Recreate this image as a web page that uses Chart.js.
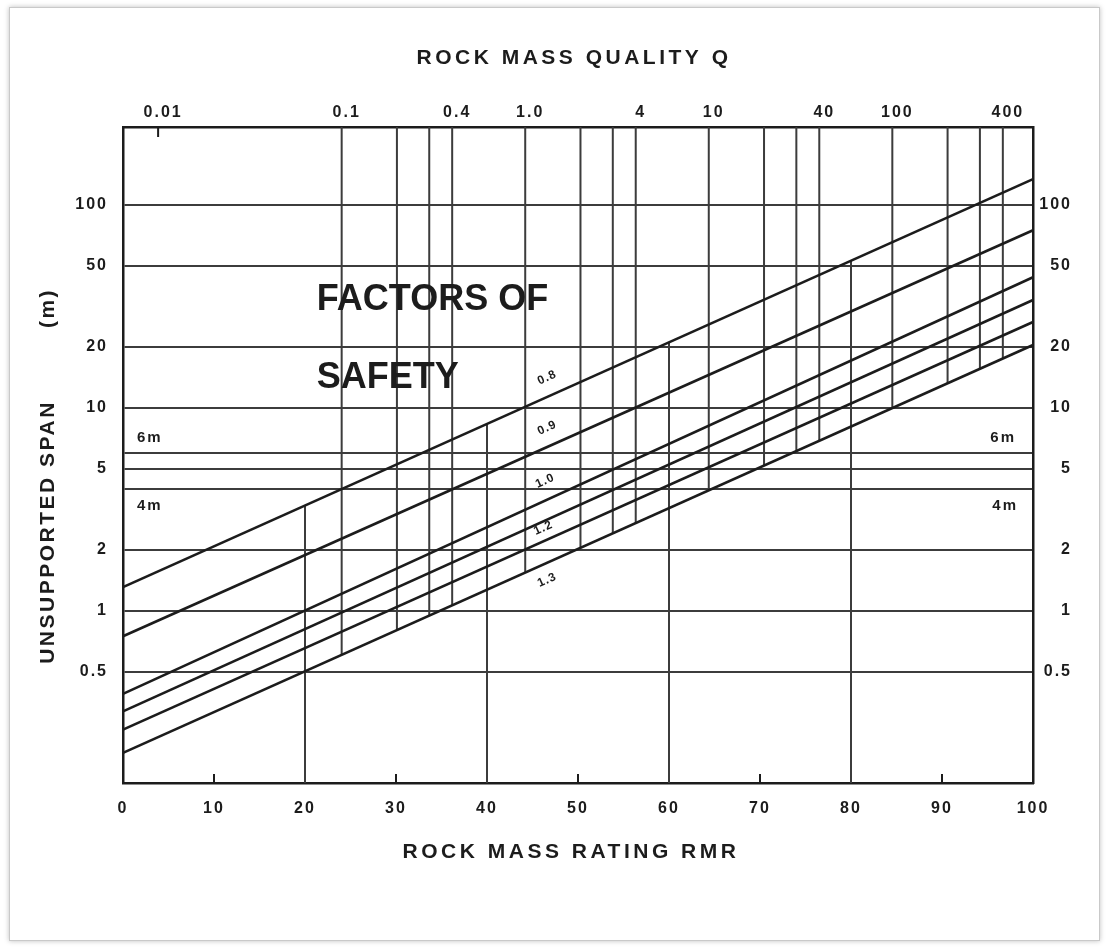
<!DOCTYPE html>
<html>
<head>
<meta charset="utf-8">
<title>Unsupported span vs rock mass rating</title>
<script src="https://cdn.jsdelivr.net/npm/chart.js@4"></script>
<style>
  html, body { margin: 0; padding: 0; background: #fff; }
  #frame { position: absolute; left: 9px; top: 7px; width: 1089px; height: 932px;
           border: 1px solid #c9c9c9; box-shadow: 0 0 5px rgba(0,0,0,0.25); }
  #chart { position: absolute; left: 0; top: 0; }
</style>
</head>
<body>
<div id="frame"></div>
<canvas id="chart" width="1109" height="947"></canvas>
<script>
// RMR at the two ends of every factor-of-safety line
const rmrEnds = [0, 100];
// unsupported span (m) at RMR 0 and at RMR 100
const span08 = [1.31, 134];
const span09 = [0.75, 75];
const span10 = [0.39, 44];
const span11 = [0.32, 34];
const span12 = [0.26, 26.5];
const span13 = [0.20, 20.4];
const fsNames = ['0.8', '0.9', '1.0', '1.1', '1.2', '1.3'];

// span axis
const spanMin = 0.142;
const spanMax = 242;
const spanLabels = [0.5, 1, 2, 5, 10, 20, 50, 100];
const spanGrid = [0.5, 1, 2, 4, 5, 6, 10, 20, 50, 100];

// Q axis (top) and RMR axis (bottom)
const qGrid = [0.1, 0.2, 0.3, 0.4, 1, 2, 3, 4, 10, 20, 30, 40, 100, 200, 300, 400];
const qLabelValues = [0.01, 0.1, 0.4, 1, 4, 10, 40, 100, 400];
const qLabels = ['0.01', '0.1', '0.4', '1.0', '4', '10', '40', '100', '400'];
const rmrGrid = [20, 40, 60, 80];
const rmrMinor = [10, 30, 50, 70, 90];

// factor of safety notes written on the lines
const fsText = ['0.8', '0.9', '1.0', '1.2', '1.3'];
const fsTextRmr = [46.6, 46.6, 46.4, 46.2, 46.6];
const fsTextSpan = [14.1, 7.97, 4.37, 2.56, 1.42];

// Q scale as drawn against RMR
const qToRmr = q => 8.76 * Math.log(q) + 44.2;

const ink = '#1c1c1c';
const gridColor = '#3c3c3c';
const fontFamily = "'Liberation Sans', Arial, Helvetica, sans-serif";

function spanAt(line, rmr) {
    const t = (rmr - rmrEnds[0]) / (rmrEnds[1] - rmrEnds[0]);
    return Math.exp(Math.log(line[0]) + t * (Math.log(line[1]) - Math.log(line[0])));
}

const fsLines = [span08, span09, span10, span11, span12, span13];
let datasets = [];
fsLines.forEach((s, i) => {
    datasets.push({
        label: 'FS ' + fsNames[i],
        data: rmrEnds.map((x, j) => ({x: x, y: s[j]})),
        borderColor: ink,
        borderWidth: 2.6
    });
});
// Q grid lines hang from the top down to the lowest line
for (let q of qGrid) {
    let x = qToRmr(q);
    datasets.push({
        data: [{x: x, y: spanMax}, {x: x, y: spanAt(span13, x)}],
        borderColor: gridColor,
        borderWidth: 2
    });
}
// RMR grid lines rise from the bottom up to the highest line
for (let x of rmrGrid) {
    datasets.push({
        data: [{x: x, y: spanMin}, {x: x, y: spanAt(span08, x)}],
        borderColor: gridColor,
        borderWidth: 2
    });
}
datasets.forEach(d => { d.showLine = true; d.pointRadius = 0; });

const tickFont = {family: fontFamily, size: 16, weight: 'bold'};
const axisBorder = {display: true, color: ink, width: 2.5};

function text(ctx, str, x, y, font, align, spacing, angle) {
    ctx.save();
    ctx.translate(x, y);
    ctx.rotate(angle || 0);
    ctx.font = font;
    ctx.letterSpacing = spacing;
    ctx.fillStyle = ink;
    ctx.textAlign = align;
    ctx.textBaseline = 'middle';
    ctx.fillText(str, 0, 0);
    ctx.restore();
}

const notes = {
    id: 'notes',
    beforeDraw(chart) {
        chart.ctx.letterSpacing = '2px';
    },
    afterDatasetsDraw(chart) {
        const {ctx, chartArea: a, scales: {x, y}} = chart;
        ctx.save();
        ctx.strokeStyle = ink;
        ctx.lineWidth = 2;
        ctx.beginPath();
        for (let v of rmrMinor) {
            let px = x.getPixelForValue(v);
            ctx.moveTo(px, a.bottom);
            ctx.lineTo(px, a.bottom - 9);
        }
        let q0 = x.getPixelForValue(qToRmr(0.01));
        ctx.moveTo(q0, a.top);
        ctx.lineTo(q0, a.top + 10);
        ctx.stroke();
        ctx.restore();

        // axis titles
        const tf = 'bold 21px ' + fontFamily;
        text(ctx, 'ROCK MASS QUALITY Q', 574, 58, tf, 'center', '3.5px');
        text(ctx, 'ROCK MASS RATING RMR', 571, 852, tf, 'center', '3.5px');
        text(ctx, 'UNSUPPORTED SPAN', 48, 532, tf, 'center', '2.5px', -Math.PI / 2);
        text(ctx, '(m)', 48, 308, tf, 'center', '2.5px', -Math.PI / 2);

        text(ctx, 'FACTORS OF', x.getPixelForValue(21.3), y.getPixelForValue(34), 'bold 36px ' + fontFamily, 'left', '0px');
        text(ctx, 'SAFETY', x.getPixelForValue(21.3), y.getPixelForValue(14.1), 'bold 36px ' + fontFamily, 'left', '0px');

        const angle = Math.atan2(y.getPixelForValue(span08[1]) - y.getPixelForValue(span08[0]),
                                 x.getPixelForValue(rmrEnds[1]) - x.getPixelForValue(rmrEnds[0]));
        fsText.forEach((t, i) => {
            text(ctx, t, x.getPixelForValue(fsTextRmr[i]), y.getPixelForValue(fsTextSpan[i]),
                 'bold 12px ' + fontFamily, 'center', '1px', angle);
        });

        const f = 'bold 15px ' + fontFamily;
        text(ctx, '6m', a.left + 14, y.getPixelForValue(6) - 15, f, 'left', '2px');
        text(ctx, '6m', a.right - 17, y.getPixelForValue(6) - 15, f, 'right', '2px');
        text(ctx, '4m', a.left + 14, y.getPixelForValue(4) + 17, f, 'left', '2px');
        text(ctx, '4m', a.right - 15, y.getPixelForValue(4) + 17, f, 'right', '2px');
    }
};

const spanTicks = s => { s.ticks = spanGrid.map(v => ({value: v})); };
const spanLabel = v => spanLabels.includes(v) ? String(v) : '';

new Chart(document.getElementById('chart'), {
    type: 'scatter',
    data: {datasets: datasets},
    options: {
        responsive: false,
        animation: false,
        layout: {padding: {left: 0, right: 37, top: 0, bottom: 0}},
        plugins: {legend: {display: false}, tooltip: {enabled: false}},
        scales: {
            x: {
                type: 'linear', position: 'bottom', min: 0, max: 100,
                ticks: {stepSize: 10, padding: 16, font: tickFont, color: ink, maxRotation: 0, autoSkip: false},
                grid: {display: false, drawTicks: false},
                border: axisBorder,
                afterFit: s => { s.height = 164; }
            },
            x2: {
                type: 'linear', position: 'top', min: 0, max: 100,
                afterBuildTicks: s => { s.ticks = qLabelValues.map(q => ({value: qToRmr(q)})); },
                ticks: {callback: (v, i) => qLabels[i], padding: 5, labelOffset: 5, font: tickFont,
                        color: ink, maxRotation: 0, autoSkip: false},
                grid: {display: false, drawTicks: false},
                border: axisBorder,
                afterFit: s => { s.height = 127; }
            },
            y: {
                type: 'logarithmic', position: 'left', min: spanMin, max: spanMax,
                afterBuildTicks: spanTicks,
                ticks: {callback: spanLabel, padding: 15, font: tickFont, color: ink, autoSkip: false},
                grid: {color: gridColor, lineWidth: 2, drawTicks: false},
                border: axisBorder,
                afterFit: s => { s.width = 123; }
            },
            y2: {
                type: 'logarithmic', position: 'right', min: spanMin, max: spanMax,
                afterBuildTicks: spanTicks,
                ticks: {callback: spanLabel, crossAlign: 'far', font: tickFont, color: ink, autoSkip: false},
                grid: {display: false, drawTicks: false},
                border: axisBorder,
                afterFit: s => { s.width = 39; }
            }
        }
    },
    plugins: [notes]
});
</script>
</body>
</html>
